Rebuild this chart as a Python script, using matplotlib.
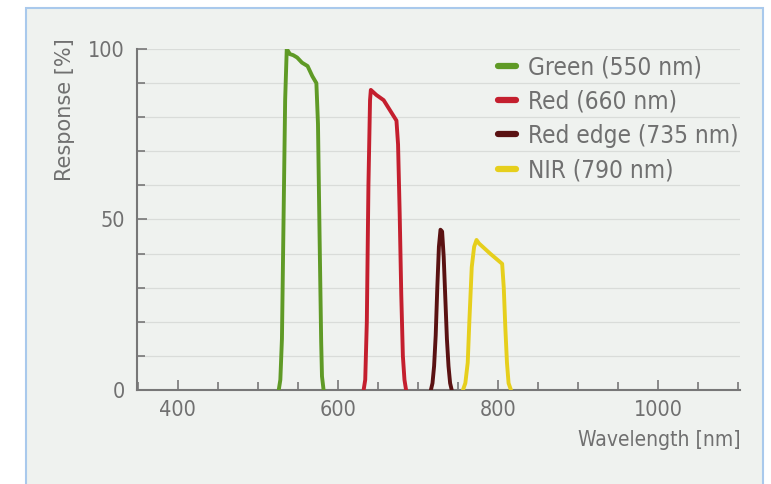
import matplotlib.pyplot as plt
from matplotlib.patches import Rectangle
from matplotlib.ticker import MultipleLocator

# band responses (wavelength nm, response %)
green_nm = [526, 528, 530, 532, 534, 536, 540, 544, 549, 555, 562, 568, 573, 575, 577, 579, 580, 582]
green_resp = [0, 3, 15, 50, 85, 100, 98.5, 98.2, 97.5, 96, 95, 92, 90, 78, 45, 14, 4, 0]

red_nm = [632, 634, 636, 638, 640, 641, 648, 657, 665, 673, 675, 677, 679, 681, 683, 685]
red_resp = [0, 3, 20, 60, 85, 88, 86.5, 85, 82, 79, 72, 52, 28, 10, 3, 0]

rededge_nm = [716, 718, 720, 722, 724, 726, 728, 730, 732, 734, 736, 738, 740, 742]
rededge_resp = [0, 2, 7, 16, 30, 42, 47, 46.5, 39, 27, 15, 7, 2, 0]

nir_nm = [756, 759, 762, 764, 767, 770, 773, 776, 790, 805, 807, 809, 811, 813, 816]
nir_resp = [0, 2, 8, 20, 36, 42, 44, 43, 40, 37, 30, 18, 8, 2, 0]

labels = ["Green (550 nm)", "Red (660 nm)", "Red edge (735 nm)", "NIR (790 nm)"]
colors = ["#5f9a26", "#c41f2e", "#5a1212", "#e6cf1c"]

plt.rcParams['font.family'] = ['DejaVu Sans']
plt.rcParams['font.stretch'] = 'condensed'
txt = "#707070"

fig = plt.figure(figsize=(7.71, 4.84), dpi=100)
fig.patch.set_facecolor("white")
fig.patches.append(Rectangle((26 / 771, -0.05), (763 - 26) / 771, 1.05 - 8 / 484,
                             transform=fig.transFigure, facecolor="#eff2ef",
                             edgecolor="#a9c9ec", linewidth=1.5, zorder=-5))

ax = fig.add_axes([137 / 771, 1 - 390 / 484, (740 - 137) / 771, (390 - 49) / 484])
ax.set_facecolor("none")
ax.set_zorder(2)

series = [(green_nm, green_resp), (red_nm, red_resp), (rededge_nm, rededge_resp), (nir_nm, nir_resp)]
for (x, y), lab, c in zip(series, labels, colors):
    ax.plot(x, y, color=c, linewidth=2.8, label=lab, solid_joinstyle="round",
            solid_capstyle="round", zorder=3)

ax.set_xlim(349, 1102)
ax.set_ylim(0, 100)

ax.xaxis.set_major_locator(MultipleLocator(200))
ax.xaxis.set_minor_locator(MultipleLocator(50))
ax.yaxis.set_major_locator(MultipleLocator(50))
ax.yaxis.set_minor_locator(MultipleLocator(10))
ax.grid(axis="y", which="both", color="#d9dcd9", linewidth=0.9)
ax.set_axisbelow(True)

ax.tick_params(which="both", direction="in", color="#777777", width=1.2, labelcolor=txt, labelsize=15.5)
ax.tick_params(which="major", length=7, pad=7)
ax.tick_params(which="minor", length=6)
ax.tick_params(axis="y", which="both", pad=9)

for s in ["top", "right"]:
    ax.spines[s].set_visible(False)
for s in ["left", "bottom"]:
    ax.spines[s].set_color("#777777")
    ax.spines[s].set_linewidth(1.5)

fig.text(65 / 771, 1 - 110 / 484, "Response [%]", rotation=90, ha="center", va="center",
         color=txt, fontsize=15, fontstretch="normal")
fig.text(741 / 771, 1 - 440 / 484, "Wavelength [nm]", ha="right", va="center",
         color=txt, fontsize=15)

leg = ax.legend(loc="upper left", bbox_to_anchor=(0.562, 1.045), frameon=False,
                handlelength=0.75, handletextpad=0.5, labelspacing=0.42,
                fontsize=17.5, labelcolor=txt)
for h in leg.get_lines():
    h.set_linewidth(4.5)

fig.savefig("out.png", dpi=100)
